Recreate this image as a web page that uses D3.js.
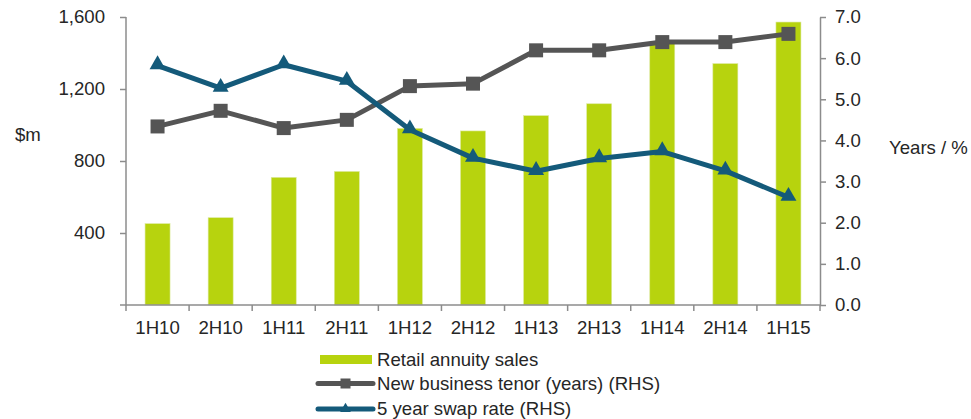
<!DOCTYPE html>
<html>
<head>
<meta charset="utf-8">
<script src="https://cdn.jsdelivr.net/npm/d3@7"></script>
<style>
  body { margin: 0; background: #fff; }
  svg text { font-family: "Liberation Sans", Arial, sans-serif; fill: #262626; font-size: 18.6px; }
  .axis path, .axis line { stroke: #8c8c8c; stroke-width: 1.5px; }
</style>
</head>
<body>
<svg id="chart" width="971" height="419"></svg>
<script>
const periods = ['1H10', '2H10', '1H11', '2H11', '1H12', '2H12', '1H13', '2H13', '1H14', '2H14', '1H15'];
const annuitySales = [452, 485, 709, 742, 981, 967, 1052, 1118, 1458, 1341, 1572];
const tenorYears = [4.34, 4.72, 4.30, 4.50, 5.32, 5.38, 6.19, 6.19, 6.39, 6.39, 6.59];
const swapRate = [5.82, 5.27, 5.84, 5.44, 4.26, 3.57, 3.25, 3.56, 3.73, 3.26, 2.62];
const leftTicks = [400, 800, 1200, 1600];
const rightTicks = [0, 1, 2, 3, 4, 5, 6, 7];

const svg = d3.select('#chart');
const margin = {top: 17, left: 126, right: 151, bottom: 114};
const width = 971 - margin.left - margin.right;
const height = 419 - margin.top - margin.bottom;
const g = svg.append('g').attr('transform', 'translate(' + margin.left + ',' + margin.top + ')');

const xb = d3.scaleBand().domain(periods).range([0, width]);
const yL = d3.scaleLinear().domain([0, 1600]).range([height, 0]);
const yR = d3.scaleLinear().domain([0, 7]).range([height, 0]);
const cx = d => xb(d) + xb.bandwidth() / 2;

// bars
g.selectAll('rect.bar')
  .data(annuitySales)
  .enter().append('rect')
    .attr('class', 'bar')
    .attr('x', (d, i) => cx(periods[i]) - 12.5)
    .attr('width', 25)
    .attr('y', d => yL(d))
    .attr('height', d => height - yL(d))
    .attr('fill', '#b7d30e')
    .attr('stroke', '#dde9a0')
    .attr('stroke-width', 0.6);

// axes
const leftAxis = g.append('g').attr('class', 'axis')
  .call(d3.axisLeft(yL).tickValues(leftTicks).tickSize(6).tickSizeOuter(0).tickFormat(d3.format(',')));
leftAxis.select('.domain').attr('d', 'M0,' + height + 'V0');
leftAxis.selectAll('text').style('font-size', null).attr('x', -21);

const rightAxis = g.append('g').attr('class', 'axis')
  .attr('transform', 'translate(' + width + ',0)')
  .call(d3.axisRight(yR).tickValues(rightTicks).tickSize(6).tickSizeOuter(0).tickFormat(d3.format('.1f')));
rightAxis.selectAll('text').attr('x', 15);

const xAxis = g.append('g').attr('class', 'axis')
  .attr('transform', 'translate(0,' + height + ')');
xAxis.append('line').attr('x1', -6).attr('x2', width);
xAxis.selectAll('line.tk')
  .data(periods.concat(['end']))
  .enter().append('line')
    .attr('class', 'tk')
    .attr('x1', (d, i) => i * xb.bandwidth())
    .attr('x2', (d, i) => i * xb.bandwidth())
    .attr('y1', 0).attr('y2', 6);
xAxis.selectAll('text')
  .data(periods)
  .enter().append('text')
    .attr('x', d => cx(d))
    .attr('y', 29)
    .attr('text-anchor', 'middle')
    .text(d => d);

// axis titles
svg.append('text').attr('x', 15).attr('y', 141).text('$m');
svg.append('text').attr('x', 889).attr('y', 154).text('Years / %');

// lines
const tenorColor = '#555555';
const swapColor = '#145a7a';
const line = d3.line().x((d, i) => cx(periods[i])).y(d => yR(d));

g.append('path')
  .datum(tenorYears)
  .attr('d', line)
  .attr('fill', 'none')
  .attr('stroke', tenorColor)
  .attr('stroke-width', 5)
  .attr('stroke-linejoin', 'round');
g.selectAll('rect.tenor')
  .data(tenorYears)
  .enter().append('rect')
    .attr('class', 'tenor')
    .attr('x', (d, i) => cx(periods[i]) - 7)
    .attr('y', d => yR(d) - 7)
    .attr('width', 14).attr('height', 14)
    .attr('fill', tenorColor);

g.append('path')
  .datum(swapRate)
  .attr('d', line)
  .attr('fill', 'none')
  .attr('stroke', swapColor)
  .attr('stroke-width', 5)
  .attr('stroke-linejoin', 'round');
const tri = d3.symbol().type(d3.symbolTriangle).size(110);
g.selectAll('path.swap')
  .data(swapRate)
  .enter().append('path')
    .attr('class', 'swap')
    .attr('transform', (d, i) => 'translate(' + cx(periods[i]) + ',' + (yR(d) - 1) + ')')
    .attr('d', tri)
    .attr('fill', swapColor);

// legend
const legend = svg.append('g').attr('transform', 'translate(318,0)');
legend.append('rect').attr('x', 2).attr('y', 355).attr('width', 52).attr('height', 9).attr('fill', '#b7d30e');
legend.append('text').attr('x', 59).attr('y', 366).text('Retail annuity sales');

legend.append('line').attr('x1', 0).attr('x2', 55).attr('y1', 383.5).attr('y2', 383.5)
  .attr('stroke', tenorColor).attr('stroke-width', 5).attr('stroke-linecap', 'round');
legend.append('rect').attr('x', 22.5).attr('y', 378.5).attr('width', 10).attr('height', 10).attr('fill', tenorColor);
legend.append('text').attr('x', 59).attr('y', 390).text('New business tenor (years) (RHS)');

legend.append('line').attr('x1', 0).attr('x2', 55).attr('y1', 409).attr('y2', 409)
  .attr('stroke', swapColor).attr('stroke-width', 5).attr('stroke-linecap', 'round');
legend.append('path').attr('transform', 'translate(27.5,409)').attr('d', d3.symbol().type(d3.symbolTriangle).size(50)).attr('fill', swapColor);
legend.append('text').attr('x', 59).attr('y', 415).text('5 year swap rate (RHS)');
</script>
</body>
</html>
